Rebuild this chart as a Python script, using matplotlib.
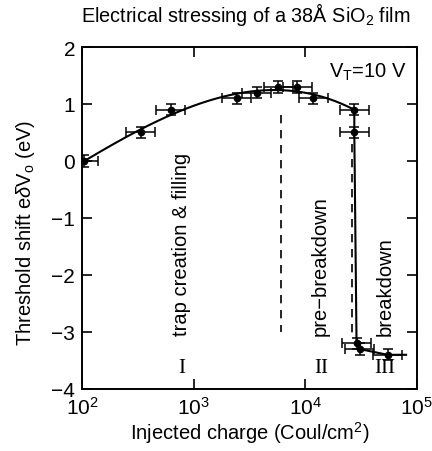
import numpy as np
import matplotlib
matplotlib.use("Agg")
import matplotlib.pyplot as plt

plt.rcParams['font.family'] = ['Liberation Sans', 'DejaVu Sans']
plt.rcParams['mathtext.fontset'] = 'custom'
plt.rcParams['mathtext.rm'] = 'Liberation Sans'
plt.rcParams['mathtext.it'] = 'Liberation Sans:italic'

# Measured threshold shift vs injected charge
charge = [104, 335, 622, 2430, 3660, 5700, 8450, 11750, 27500, 27500, 28800, 30800, 54600]
shift = [0.0, 0.5, 0.9, 1.1, 1.2, 1.3, 1.3, 1.1, 0.9, 0.5, -3.2, -3.3, -3.4]
shift_err = 0.1
charge_err_dec = 0.13  # horizontal error bar half-width in decades

# Smooth fit over the trap creation region (first 9 points), then through the breakdown points
n_fit = 9
tail_charge = 8.0e4

# Region boundaries (dashed) and labels
bound_x = [6000, 26000]
bound_top = [0.8, 0.3]
bound_bot = [-3.0, -3.1]
region_names = ["trap creation & filling", "pre\u2212breakdown", "breakdown"]
region_x = [782, 13500, 51600]
roman = ["I", "II", "III"]
roman_x = [782, 14000, 51600]

fig = plt.figure(figsize=(4.32, 4.52), dpi=100)
ax = fig.add_axes([0.19, 0.1372, 0.775, 0.7566])

cx = np.array(charge, float)
cy = np.array(shift, float)
lx = np.log10(cx)

coef = np.polyfit(lx[:n_fit], cy[:n_fit], 3)
xs = np.linspace(lx[0], lx[n_fit - 1], 200)
curve_x = list(10 ** xs) + list(cx[n_fit:]) + [tail_charge]
curve_y = list(np.polyval(coef, xs)) + list(cy[n_fit:]) + [cy[-1]]
ax.plot(curve_x, curve_y, color='black', lw=1.5, zorder=3)

xlo = cx - cx / 10 ** charge_err_dec
xhi = cx * 10 ** charge_err_dec - cx
ax.errorbar(cx, cy, yerr=shift_err, xerr=[xlo, xhi], fmt='o', color='black',
            ms=4.5, capsize=3.5, elinewidth=1.1, capthick=1.1, zorder=4)

for bx, bt, bb in zip(bound_x, bound_top, bound_bot):
    ax.plot([bx, bx], [bt, bb], color='black', lw=1.2, ls=(0, (5, 4)), zorder=2)

for name, x in zip(region_names, region_x):
    ax.text(x, -3.05, name, rotation=90, ha='center', va='bottom', fontsize=14.5)
for r, x in zip(roman, roman_x):
    ax.text(x, -3.62, r, ha='center', va='center', fontsize=15,
            family=['Liberation Serif', 'DejaVu Serif'])

ax.text(0.97, 0.96, r"V$_\mathrm{T}$=10 V", transform=ax.transAxes,
        ha='right', va='top', fontsize=14.5)

ax.set_xscale('log')
ax.set_xlim(100, 1e5)
ax.set_ylim(-4, 2)
ax.set_yticks([-4, -3, -2, -1, 0, 1, 2])
ax.set_yticklabels(["\u22124", "\u22123", "\u22122", "\u22121", "0", "1", "2"])
ax.xaxis.set_minor_locator(matplotlib.ticker.NullLocator())
ax.tick_params(which='both', direction='in', top=True, right=True, length=7,
               width=1.2, labelsize=15, pad=5)
for s in ax.spines.values():
    s.set_linewidth(1.4)

ax.set_xlabel(r"Injected charge (Coul/cm$^\mathrm{2}$)", fontsize=14.5, labelpad=1)
fig.text(0.058, 1 - 233 / 452, r"Threshold shift e$\delta$V$_\mathrm{o}$ (eV)",
         rotation=90, ha='center', va='center', fontsize=14.5)
fig.text(0.57, 1 - 15 / 452, r"Electrical stressing of a 38$\mathrm{\AA}$ SiO$_\mathrm{2}$ film",
         ha='center', va='center', fontsize=14.3)

fig.savefig("out.png", dpi=100)
